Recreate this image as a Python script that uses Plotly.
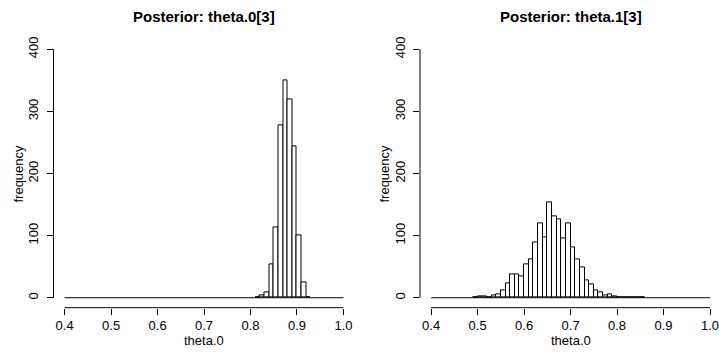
import plotly.graph_objects as go

W, H = 719, 352

# ---- data (bin left edges, width 0.01) ----
bin_width = 0.01
theta0_bins = [0.81, 0.82, 0.83, 0.84, 0.85, 0.86, 0.87, 0.88, 0.89, 0.90, 0.91, 0.92]
theta0_counts = [1, 3, 8, 54, 113, 277, 350, 320, 244, 101, 24, 1]

theta1_bins = [0.49, 0.50, 0.51, 0.52, 0.53, 0.54, 0.55, 0.56, 0.57, 0.58, 0.59,
               0.60, 0.61, 0.62, 0.63, 0.64, 0.65, 0.66, 0.67, 0.68, 0.69,
               0.70, 0.71, 0.72, 0.73, 0.74, 0.75, 0.76, 0.77, 0.78, 0.79,
               0.80, 0.81, 0.82, 0.83, 0.84, 0.85]
theta1_counts = [1, 2, 2, 1, 4, 6, 12, 23, 37, 38, 35,
                 53, 62, 89, 119, 97, 154, 131, 126, 95, 119,
                 81, 62, 49, 28, 21, 12, 9, 3, 6, 2,
                 0, 0, 1, 0, 0, 1]

hist_range = [0.4, 1.0]
x_ticks = [0.4, 0.5, 0.6, 0.7, 0.8, 0.9, 1.0]
x_ticklabels = ["0.4", "0.5", "0.6", "0.7", "0.8", "0.9", "1.0"]
y_ticks = [0, 100, 200, 300, 400]
titles = ["Posterior: theta.0[3]", "Posterior: theta.1[3]"]
x_title = "theta.0"
y_title = "frequency"

FONT = "Liberation Sans, Arial, Helvetica, sans-serif"

fig = go.Figure()

panels = [
    (theta0_bins, theta0_counts, "x", "y"),
    (theta1_bins, theta1_counts, "x2", "y2"),
]
for bins, counts, xa, ya in panels:
    fig.add_trace(go.Scatter(
        x=hist_range, y=[0, 0], mode="lines",
        line=dict(color="black", width=1), xaxis=xa, yaxis=ya,
        showlegend=False, hoverinfo="skip"))
    fig.add_trace(go.Bar(
        x=[b + bin_width / 2 for b in bins], y=counts, width=bin_width,
        marker=dict(color="white", line=dict(color="black", width=1)),
        xaxis=xa, yaxis=ya, showlegend=False))

# pixel geometry
def px(v):
    return v / W

def py(v):
    return 1 - v / H

ydom = [py(307.3), py(36.7)]
left_dom = [px(53.5), px(354.6)]
right_dom = [px(420.0), 1.0]

axis_common = dict(
    showgrid=False, zeroline=False, showline=False,
    ticks="outside", ticklen=6, tickwidth=1, tickcolor="black",
    tickfont=dict(family=FONT, size=13, color="black"),
    ticklabeloverflow="allow",
)

xaxis_extra = dict(tickmode="array", tickvals=x_ticks, ticktext=x_ticklabels,
                   tickformat=".1f")

fig.update_layout(
    width=W, height=H,
    margin=dict(l=0, r=0, t=0, b=0),
    plot_bgcolor="white", paper_bgcolor="white",
    bargap=0,
    xaxis=dict(domain=left_dom, range=[0.376, 1.024], anchor="y",
               **xaxis_extra, **axis_common),
    yaxis=dict(domain=ydom, range=[-16, 416], tickvals=y_ticks,
               tickangle=-90, anchor="x", ticklabelstandoff=3, **axis_common),
    xaxis2=dict(domain=right_dom, range=[0.376, 0.4 + (719 - 431.3) / 464.5],
                anchor="y2", **xaxis_extra, **axis_common),
    yaxis2=dict(domain=ydom, range=[-16, 416], tickvals=y_ticks,
                tickangle=-90, anchor="x2", ticklabelstandoff=3, **axis_common),
)

# R-style axis lines spanning only the tick range
for xa, ya in [("x", "y"), ("x2", "y2")]:
    fig.add_shape(type="line", xref=xa, yref=f"{ya} domain",
                  x0=x_ticks[0], x1=x_ticks[-1], y0=0, y1=0,
                  line=dict(color="black", width=1))
    fig.add_shape(type="line", xref=f"{xa} domain", yref=ya,
                  x0=0, x1=0, y0=y_ticks[0], y1=y_ticks[-1],
                  line=dict(color="black", width=1))

# titles and axis labels
centers = [(53.5 + 354.6) / 2, (420.0 + 721.0) / 2]
yaxis_label_x = [19, 385]
for i in range(2):
    fig.add_annotation(x=px(centers[i]), y=py(14), xref="paper", yref="paper",
                       xanchor="center", yanchor="middle",
                       text=f"<b>{titles[i]}</b>", showarrow=False,
                       font=dict(family=FONT, size=15, color="black"))
    fig.add_annotation(x=px(centers[i]), y=py(340), xref="paper", yref="paper",
                       xanchor="center", yanchor="middle",
                       text=x_title, showarrow=False,
                       font=dict(family=FONT, size=13, color="black"))
    fig.add_annotation(x=px(yaxis_label_x[i]), y=py(172), xref="paper", yref="paper",
                       xanchor="center", yanchor="middle",
                       text=y_title, showarrow=False, textangle=-90,
                       font=dict(family=FONT, size=13, color="black"))

fig.write_html("out.html", config={"displayModeBar": False},
               post_script="document.body.style.margin='0';")
